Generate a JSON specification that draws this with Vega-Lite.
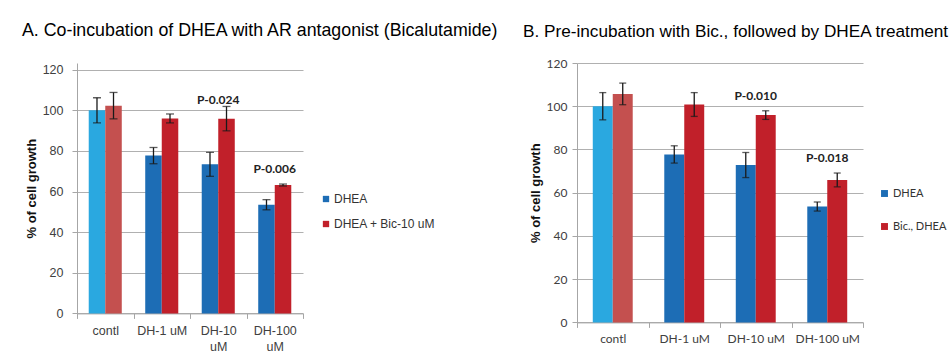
{
  "$schema": "https://vega.github.io/schema/vega-lite/v6.json",
  "background": "white",
  "padding": {"left": 22, "top": 22, "right": 0, "bottom": 0},
  "bounds": "flush",
  "spacing": 274,
  "config": {
    "view": {"stroke": null},
    "font": "Liberation Sans",
    "axis": {"domainColor": "#a6a6a6", "tickColor": "#a6a6a6", "gridColor": "#b0b0b0", "labelColor": "#404040", "tickSize": 5}
  },
  "resolve": {"scale": {"x": "independent", "y": "independent", "color": "independent", "xOffset": "independent"}},
  "hconcat": [
    {
      "width": 226,
      "height": 250.4,
      "title": {"text": "A. Co-incubation of DHEA with AR antagonist (Bicalutamide)", "anchor": "start", "frame": "group", "dx": -55, "fontSize": 17.8, "fontWeight": "normal", "font": "Liberation Sans", "color": "#000000", "offset": 23},
      "data": {"values": [
        {"cat": "contl", "series": "DHEA", "value": 100, "err": 6.2},
        {"cat": "contl", "series": "DHEA + Bic-10 uM", "value": 102.3, "err": 6.5},
        {"cat": "DH-1 uM", "series": "DHEA", "value": 77.7, "err": 4},
        {"cat": "DH-1 uM", "series": "DHEA + Bic-10 uM", "value": 96, "err": 2.2},
        {"cat": "DH-10 uM", "series": "DHEA", "value": 73.4, "err": 5.9},
        {"cat": "DH-10 uM", "series": "DHEA + Bic-10 uM", "value": 95.9, "err": 6, "p": "P-0.024"},
        {"cat": "DH-100 uM", "series": "DHEA", "value": 53.5, "err": 2.5},
        {"cat": "DH-100 uM", "series": "DHEA + Bic-10 uM", "value": 63.2, "err": 0.5, "p": "P-0.006"}
      ]},
      "encoding": {
        "x": {"field": "cat", "type": "nominal", "sort": ["contl", "DH-1 uM", "DH-10 uM", "DH-100 uM"], "scale": {"paddingInner": 0, "paddingOuter": 0},
          "axis": {"title": null, "labelAngle": 0, "tickBand": "extent", "labelPadding": 6, "labelFontSize": 12.5, "labelExpr": "length(datum.label) > 7 ? split(datum.label, ' ') : datum.label", "labelLineHeight": 16.5, "grid": false}}
      },
      "layer": [
        {
          "mark": {"type": "bar"},
          "encoding": {
            "xOffset": {"field": "series", "type": "nominal", "sort": ["DHEA", "DHEA + Bic-10 uM"], "scale": {"paddingInner": 0, "paddingOuter": 0.71}},
            "y": {"field": "value", "type": "quantitative", "title": "% of cell growth", "scale": {"domain": [0, 123.3], "nice": false},
              "axis": {"values": [0, 20, 40, 60, 80, 100, 120], "grid": true, "labelFontSize": 12.5, "labelPadding": 9, "titleFontSize": 13, "titleFontWeight": "bold", "titleColor": "#111111", "titlePadding": 4}},
            "color": {"field": "series", "type": "nominal",
              "scale": {"domain": ["DHEA", "DHEA + Bic-10 uM"], "range": ["#1d6db5", "#c1202a"]},
              "legend": {"title": null, "orient": "none", "legendX": 243, "legendY": 130, "labelFont": "Liberation Sans", "labelFontSize": 12, "labelColor": "#333333", "symbolType": "square", "symbolSize": 40, "rowPadding": 13, "labelOffset": 2, "padding": 0,
                "encode": {"symbols": {"update": {"fill": {"signal": "datum.value === 'DHEA' ? '#4f81bd' : '#c0504d'"}, "stroke": {"value": null}}}}},
              "condition": [
                {"test": "datum.cat === 'contl' && datum.series === 'DHEA'", "value": "#2aa8e0"},
                {"test": "datum.cat === 'contl' && datum.series !== 'DHEA'", "value": "#c4504f"}
              ]}
          }
        },
        {
          "mark": {"type": "errorbar", "ticks": {"size": 8, "color": "#1a1a1a"}, "color": "#1a1a1a", "thickness": 1.3},
          "encoding": {
            "xOffset": {"field": "series", "type": "nominal", "sort": ["DHEA", "DHEA + Bic-10 uM"]},
            "y": {"field": "value", "type": "quantitative", "title": "% of cell growth"},
            "yError": {"field": "err"}
          }
        },
        {
          "transform": [{"filter": "datum.p === 'P-0.024'"}, {"calculate": "datum.value + datum.err", "as": "top"}],
          "mark": {"type": "text", "dy": -6, "baseline": "middle", "font": "Lato", "fontWeight": "bold", "fontSize": 12, "color": "#222222"},
          "encoding": {
            "y": {"field": "top", "type": "quantitative", "title": "% of cell growth"},
            "text": {"field": "p"}
          }
        },
        {
          "transform": [{"filter": "datum.p === 'P-0.006'"}, {"calculate": "datum.value + datum.err", "as": "top"}],
          "mark": {"type": "text", "dy": -15, "baseline": "middle", "font": "Lato", "fontWeight": "bold", "fontSize": 12, "color": "#222222"},
          "encoding": {
            "y": {"field": "top", "type": "quantitative", "title": "% of cell growth"},
            "text": {"field": "p"}
          }
        }
      ]
    },
    {
      "width": 286,
      "height": 259.4,
      "title": {"text": "B. Pre-incubation with Bic., followed by DHEA treatment", "anchor": "start", "frame": "group", "dx": -54, "fontSize": 17.2, "fontWeight": "normal", "font": "Liberation Sans", "color": "#000000", "offset": 17},
      "data": {"values": [
        {"cat": "contl", "series": "DHEA", "value": 100, "err": 6.3},
        {"cat": "contl", "series": "Bic., DHEA", "value": 105.7, "err": 5},
        {"cat": "DH-1 uM", "series": "DHEA", "value": 77.7, "err": 4},
        {"cat": "DH-1 uM", "series": "Bic., DHEA", "value": 100.8, "err": 5.5},
        {"cat": "DH-10 uM", "series": "DHEA", "value": 72.8, "err": 5.8},
        {"cat": "DH-10 uM", "series": "Bic., DHEA", "value": 95.9, "err": 2, "p": "P-0.010"},
        {"cat": "DH-100 uM", "series": "DHEA", "value": 53.6, "err": 2.1},
        {"cat": "DH-100 uM", "series": "Bic., DHEA", "value": 65.9, "err": 3.2, "p": "P-0.018"}
      ]},
      "encoding": {
        "x": {"field": "cat", "type": "nominal", "sort": ["contl", "DH-1 uM", "DH-10 uM", "DH-100 uM"], "scale": {"paddingInner": 0, "paddingOuter": 0},
          "axis": {"title": null, "labelAngle": 0, "tickBand": "extent", "labelPadding": 6, "labelFont": "Lato", "labelFontSize": 12, "grid": false}}
      },
      "layer": [
        {
          "mark": {"type": "bar"},
          "encoding": {
            "xOffset": {"field": "series", "type": "nominal", "sort": ["DHEA", "Bic., DHEA"], "scale": {"paddingInner": 0, "paddingOuter": 0.79}},
            "y": {"field": "value", "type": "quantitative", "title": "% of cell growth", "scale": {"domain": [0, 120], "nice": false},
              "axis": {"values": [0, 20, 40, 60, 80, 100, 120], "grid": true, "labelFont": "Lato", "labelFontSize": 12, "labelPadding": 5, "titleFontSize": 13, "titleFontWeight": "bold", "titleColor": "#111111", "titlePadding": 4}},
            "color": {"field": "series", "type": "nominal",
              "scale": {"domain": ["DHEA", "Bic., DHEA"], "range": ["#1d6db5", "#c1202a"]},
              "legend": {"title": null, "orient": "none", "legendX": 302, "legendY": 125, "labelFont": "Lato", "labelFontSize": 11, "labelColor": "#333333", "symbolType": "square", "symbolSize": 48, "rowPadding": 21, "labelOffset": 3, "padding": 0,
                "encode": {"symbols": {"update": {"fill": {"signal": "datum.value === 'DHEA' ? '#2e78c8' : '#cc3c40'"}, "stroke": {"value": null}}}}},
              "condition": [
                {"test": "datum.cat === 'contl' && datum.series === 'DHEA'", "value": "#2aa8e0"},
                {"test": "datum.cat === 'contl' && datum.series !== 'DHEA'", "value": "#c4504f"}
              ]}
          }
        },
        {
          "mark": {"type": "errorbar", "ticks": {"size": 7, "color": "#1a1a1a"}, "color": "#1a1a1a", "thickness": 1.3},
          "encoding": {
            "xOffset": {"field": "series", "type": "nominal", "sort": ["DHEA", "Bic., DHEA"]},
            "y": {"field": "value", "type": "quantitative", "title": "% of cell growth"},
            "yError": {"field": "err"}
          }
        },
        {
          "transform": [{"filter": "isValid(datum.p)"}, {"calculate": "datum.value + datum.err", "as": "top"}],
          "mark": {"type": "text", "dy": -15, "baseline": "middle", "font": "Lato", "fontWeight": "bold", "fontSize": 12, "color": "#222222"},
          "encoding": {
            "y": {"field": "top", "type": "quantitative", "title": "% of cell growth"},
            "text": {"field": "p"}
          }
        }
      ]
    }
  ]
}
